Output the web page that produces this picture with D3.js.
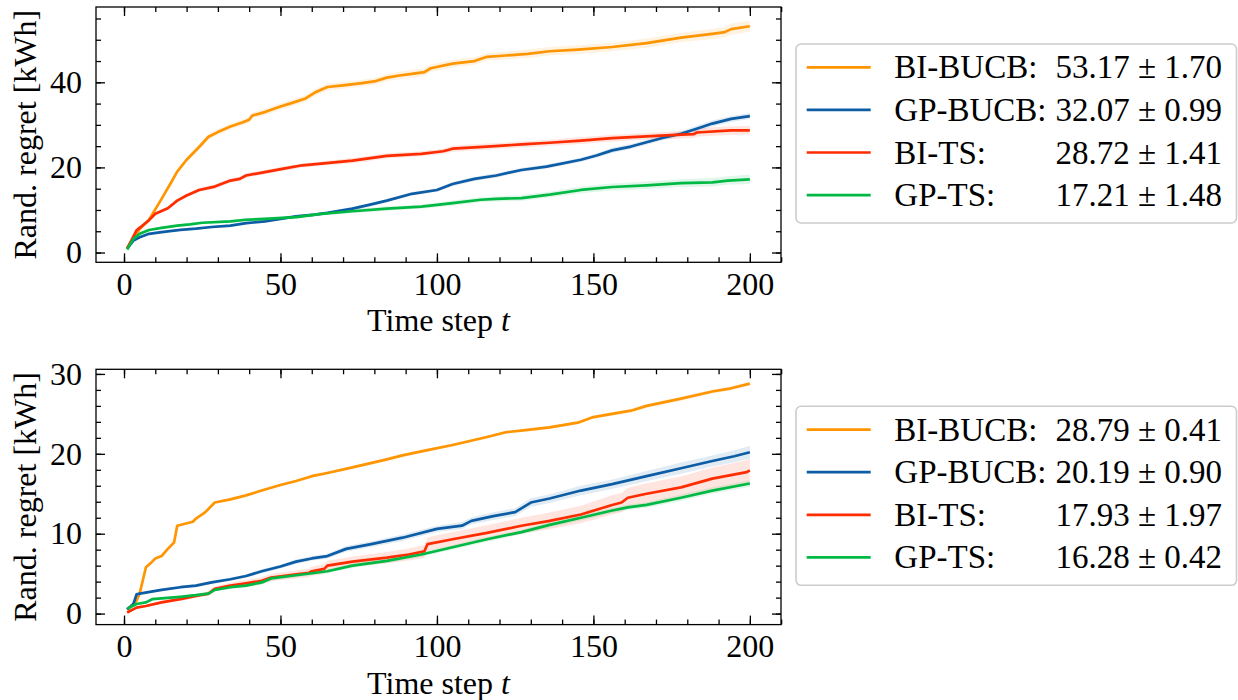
<!DOCTYPE html>
<html>
<head>
<meta charset="utf-8">
<script src="https://cdn.jsdelivr.net/npm/d3@7"></script>
<style>
  html, body { margin: 0; padding: 0; background: #fff; }
  svg { display: block; font-family: "Liberation Serif", "DejaVu Serif", serif; }
</style>
</head>
<body>
<svg id="chart" width="1238" height="700"></svg>
<script>
// ---- Series names, colours and summary values shown in the legends ----
const methods = ["BI-BUCB", "GP-BUCB", "BI-TS", "GP-TS"];
const colors = ["#FF9500", "#0C5DA5", "#FF2C00", "#00B945"];
const topFinal = ["53.17 \u00b1 1.70", "32.07 \u00b1 0.99", "28.72 \u00b1 1.41", "17.21 \u00b1 1.48"];
const bottomFinal = ["28.79 \u00b1 0.41", "20.19 \u00b1 0.90", "17.93 \u00b1 1.97", "16.28 \u00b1 0.42"];

const xTicks = [0, 50, 100, 150, 200];
const topYTicks = [0, 20, 40];
const bottomYTicks = [0, 10, 20, 30];

// ---- Upper panel: time steps, mean regret, half-width of shaded band ----
const topT_biBucb = [1,3,5,8,12,15,17,20,24,27,30,34,38,40,41,45,50,53,58,61,65,70,76,80,84,88,92,96,98,105,112,116,122,129,136,145,156,167,178,188,192,194,200];
const topV_biBucb = [1.0,3.4,5.5,7.7,12.6,16.4,19.0,21.8,24.8,27.2,28.3,29.6,30.6,31.2,32.2,33.0,34.3,35.0,36.2,37.6,38.9,39.3,39.8,40.2,41.1,41.6,42.0,42.4,43.3,44.4,45.0,46.0,46.3,46.7,47.3,47.7,48.3,49.2,50.5,51.4,51.8,52.5,53.17];
const topS_biBucb = [0.1,0.2,0.3,0.3,0.4,0.5,0.5,0.6,0.6,0.7,0.7,0.7,0.7,0.7,0.7,0.8,0.8,0.8,0.8,0.8,0.8,0.8,0.8,0.8,0.8,0.9,0.9,0.9,0.9,0.9,0.9,0.9,0.9,1.0,1.0,1.0,1.0,1.1,1.1,1.2,1.2,1.3,1.3];

const topT_gpBucb = [1,3,5,8,12,18,23,28,34,39,45,50,55,61,65,73,79,84,92,100,105,112,119,127,135,146,151,156,162,167,172,178,183,188,194,200];
const topV_gpBucb = [0.9,2.8,3.6,4.4,4.8,5.3,5.6,6.0,6.3,6.9,7.3,7.9,8.5,8.9,9.3,10.3,11.3,12.2,13.8,14.7,16.1,17.3,18.1,19.4,20.2,21.8,22.8,24.0,24.9,25.9,26.9,27.9,29.1,30.3,31.4,32.07];
const topS_gpBucb = [0.1,0.2,0.2,0.2,0.2,0.2,0.2,0.3,0.3,0.3,0.3,0.3,0.3,0.3,0.3,0.4,0.4,0.4,0.4,0.4,0.5,0.5,0.5,0.5,0.5,0.5,0.5,0.6,0.6,0.6,0.6,0.6,0.7,0.7,0.7,0.7];

const topT_biTs = [1,4,8,10,14,17,20,24,29,34,37,39,45,51,57,63,73,84,95,102,105,116,127,136,146,156,167,178,182,183,194,200];
const topV_biTs = [0.9,5.2,7.6,9.1,10.4,12.2,13.4,14.7,15.5,16.9,17.3,18.1,18.9,19.7,20.5,20.9,21.6,22.7,23.2,23.8,24.4,24.9,25.4,25.8,26.3,26.9,27.3,27.7,27.8,28.2,28.7,28.72];
const topS_biTs = [0.1,0.2,0.3,0.3,0.4,0.4,0.4,0.5,0.5,0.5,0.5,0.5,0.5,0.5,0.5,0.5,0.6,0.6,0.6,0.6,0.7,0.7,0.7,0.7,0.8,0.8,0.8,0.9,0.9,1.0,1.0,1.0];

const topT_gpTs = [1,3,5,8,12,17,21,25,34,39,45,55,63,73,84,95,105,114,119,127,136,146,156,167,178,188,193,200];
const topV_gpTs = [0.7,3.2,4.4,5.3,5.8,6.3,6.6,7.0,7.3,7.7,7.9,8.3,9.1,9.7,10.3,10.8,11.6,12.4,12.6,12.8,13.6,14.7,15.4,15.8,16.3,16.5,16.9,17.21];
const topS_gpTs = [0.1,0.2,0.2,0.3,0.3,0.3,0.3,0.3,0.3,0.4,0.4,0.4,0.4,0.5,0.5,0.5,0.6,0.6,0.6,0.7,0.7,0.8,0.8,0.9,0.9,1.0,1.0,1.1];

// ---- Lower panel ----
const botT_biBucb = [1,3,4,5,7,9,10,12,14,16,17,22,23,26,29,34,39,44,50,55,60,65,73,84,89,95,105,116,122,129,136,145,150,156,162,167,178,188,194,200];
const botV_biBucb = [0.5,1.2,1.6,2.5,5.8,6.5,6.9,7.2,8.1,8.9,11.0,11.5,11.9,12.7,13.9,14.3,14.8,15.4,16.1,16.6,17.2,17.6,18.3,19.3,19.8,20.3,21.1,22.1,22.7,23.0,23.3,23.9,24.6,25.0,25.4,26.0,26.9,27.8,28.2,28.79];
const botS_biBucb = [0.05,0.1,0.1,0.1,0.15,0.15,0.15,0.15,0.15,0.15,0.15,0.15,0.15,0.15,0.15,0.15,0.15,0.15,0.15,0.15,0.2,0.2,0.2,0.2,0.2,0.2,0.2,0.2,0.2,0.2,0.2,0.2,0.2,0.25,0.25,0.25,0.25,0.25,0.25,0.25];

const botT_gpBucb = [1,3,4,5,12,18,23,28,34,39,44,50,55,60,65,71,79,89,100,108,111,118,125,130,136,146,156,167,178,188,195,200];
const botV_gpBucb = [0.5,1.2,2.4,2.5,2.96,3.3,3.5,3.9,4.3,4.7,5.3,5.9,6.5,6.9,7.2,8.1,8.7,9.5,10.6,11.0,11.6,12.2,12.7,13.9,14.4,15.4,16.2,17.2,18.2,19.1,19.7,20.19];
const botS_gpBucb = [0.05,0.1,0.1,0.1,0.15,0.15,0.2,0.2,0.2,0.2,0.25,0.25,0.3,0.3,0.3,0.35,0.35,0.4,0.4,0.45,0.45,0.5,0.5,0.55,0.55,0.6,0.6,0.65,0.7,0.7,0.75,0.8];

const botT_biTs = [1,4,7,12,18,23,27,29,34,39,44,47,55,59,60,64,65,73,84,91,96,97,105,116,127,136,146,156,159,161,167,178,188,199,200];
const botV_biTs = [0.13,0.75,0.95,1.4,1.8,2.2,2.5,3.1,3.5,3.8,4.1,4.5,4.9,5.1,5.3,5.6,6.0,6.5,7.0,7.4,7.8,8.7,9.3,10.1,11.0,11.6,12.4,13.6,13.9,14.5,15.0,15.8,16.9,17.7,17.93];
const botS_biTs = [0.05,0.1,0.15,0.2,0.2,0.25,0.3,0.3,0.35,0.4,0.45,0.45,0.5,0.55,0.55,0.6,0.6,0.65,0.7,0.75,0.8,0.85,0.9,0.95,1.0,1.05,1.1,1.2,1.2,1.25,1.3,1.35,1.4,1.5,1.5];

const botT_gpTs = [1,4,7,9,12,18,23,27,29,34,39,44,47,55,65,73,84,95,105,116,127,136,146,156,161,167,178,188,200];
const botV_gpTs = [0.6,1.2,1.4,1.8,1.9,2.1,2.3,2.5,2.96,3.3,3.5,3.9,4.4,4.8,5.3,6.0,6.6,7.4,8.3,9.3,10.2,11.1,12.0,12.9,13.3,13.6,14.5,15.4,16.28];
const botS_gpTs = [0.05,0.1,0.1,0.15,0.15,0.15,0.2,0.2,0.2,0.2,0.2,0.25,0.25,0.25,0.25,0.3,0.3,0.3,0.3,0.3,0.3,0.35,0.35,0.35,0.35,0.35,0.4,0.4,0.4];

function rows(T, V, S) {
  return T.map((t, i) => ({ t, v: V[i], s: S[i] == null ? 0 : S[i] }));
}

const panels = [
  {
    top: 7, yDomain: [-2.3, 57.7], yTicks: topYTicks, yMinor: d3.range(0, 56, 5), legend: topFinal,
    series: [rows(topT_biBucb, topV_biBucb, topS_biBucb), rows(topT_gpBucb, topV_gpBucb, topS_gpBucb),
             rows(topT_biTs, topV_biTs, topS_biTs), rows(topT_gpTs, topV_gpTs, topS_gpTs)]
  },
  {
    top: 369.3, yDomain: [-1.38, 30.58], yTicks: bottomYTicks, yMinor: d3.range(0, 31, 2), legend: bottomFinal,
    series: [rows(botT_biBucb, botV_biBucb, botS_biBucb), rows(botT_gpBucb, botV_gpBucb, botS_gpBucb),
             rows(botT_biTs, botV_biTs, botS_biTs), rows(botT_gpTs, botV_gpTs, botS_gpTs)]
  }
];

// ---- Layout ----
const axLeft = 96, axRight = 781, axH = 255.3;
const fontSize = 32;
const legendFont = 33;
const svg = d3.select("#chart");

const x = d3.scaleLinear().domain([-8.95, 209.95]).range([axLeft, axRight]);
const xMinor = d3.range(0, 211, 10);

panels.forEach((p, pi) => {
  const y = d3.scaleLinear().domain(p.yDomain).range([p.top + axH, p.top]);
  const g = svg.append("g");
  const clipId = "clip" + pi;
  g.append("clipPath").attr("id", clipId)
    .append("rect").attr("x", axLeft).attr("y", p.top).attr("width", axRight - axLeft).attr("height", axH);

  const plot = g.append("g").attr("clip-path", `url(#${clipId})`);

  // shaded bands (mean ± spread)
  p.series.forEach((data, i) => {
    plot.append("path")
      .datum(data)
      .attr("fill", colors[i])
      .attr("fill-opacity", 0.12)
      .attr("d", d3.area().x(d => x(d.t)).y0(d => y(d.v - d.s)).y1(d => y(d.v + d.s)));
  });
  // mean curves
  p.series.forEach((data, i) => {
    plot.append("path")
      .datum(data)
      .attr("fill", "none")
      .attr("stroke", colors[i])
      .attr("stroke-width", 2.7)
      .attr("stroke-linejoin", "round")
      .attr("d", d3.line().x(d => x(d.t)).y(d => y(d.v)));
  });

  const bottomY = p.top + axH;
  const styleAxis = sel => {
    sel.select(".domain").remove();
    sel.selectAll("line").attr("stroke", "#000").attr("stroke-width", 1.3);
    sel.selectAll("text").attr("font-family", "'Liberation Serif', serif")
      .attr("font-size", fontSize).attr("fill", "#000");
  };

  // bottom axis: major with labels, minor without
  g.append("g").attr("transform", `translate(0,${bottomY})`)
    .call(d3.axisBottom(x).tickValues(xMinor).tickSize(-5).tickFormat(""))
    .call(styleAxis);
  g.append("g").attr("transform", `translate(0,${bottomY})`)
    .call(d3.axisBottom(x).tickValues(xTicks).tickSize(-9).tickPadding(10).tickFormat(d3.format("d")))
    .call(styleAxis);
  // top axis ticks
  g.append("g").attr("transform", `translate(0,${p.top})`)
    .call(d3.axisTop(x).tickValues(xMinor).tickSize(-5).tickFormat(""))
    .call(styleAxis);
  g.append("g").attr("transform", `translate(0,${p.top})`)
    .call(d3.axisTop(x).tickValues(xTicks).tickSize(-9).tickFormat(""))
    .call(styleAxis);
  // left axis
  g.append("g").attr("transform", `translate(${axLeft},0)`)
    .call(d3.axisLeft(y).tickValues(p.yMinor).tickSize(-5).tickFormat(""))
    .call(styleAxis);
  g.append("g").attr("transform", `translate(${axLeft},0)`)
    .call(d3.axisLeft(y).tickValues(p.yTicks).tickSize(-9).tickPadding(14).tickFormat(d3.format("d")))
    .call(styleAxis);
  // right axis ticks
  g.append("g").attr("transform", `translate(${axRight},0)`)
    .call(d3.axisRight(y).tickValues(p.yMinor).tickSize(-5).tickFormat(""))
    .call(styleAxis);
  g.append("g").attr("transform", `translate(${axRight},0)`)
    .call(d3.axisRight(y).tickValues(p.yTicks).tickSize(-9).tickFormat(""))
    .call(styleAxis);

  // frame
  g.append("rect")
    .attr("x", axLeft).attr("y", p.top).attr("width", axRight - axLeft).attr("height", axH)
    .attr("fill", "none").attr("stroke", "#000").attr("stroke-width", 1.3);

  // axis titles
  const xl = g.append("text")
    .attr("x", (axLeft + axRight) / 2).attr("y", bottomY + 69)
    .attr("text-anchor", "middle").attr("font-size", fontSize);
  xl.append("tspan").text("Time step ");
  xl.append("tspan").attr("font-style", "italic").text("t");

  g.append("text")
    .attr("transform", `translate(36,${p.top + axH / 2}) rotate(-90)`)
    .attr("text-anchor", "middle").attr("font-size", fontSize)
    .text("Rand. regret [kWh]");

  // legend
  const lg = g.append("g");
  lg.append("rect")
    .attr("x", 796).attr("y", p.top + 37).attr("width", 440.5).attr("height", 179)
    .attr("rx", 5).attr("fill", "#fff").attr("fill-opacity", 0.8)
    .attr("stroke", "#cccccc").attr("stroke-width", 1.6);
  methods.forEach((m, i) => {
    const ry = p.top + 60.3 + i * 42.6;
    lg.append("line").attr("x1", 806.7).attr("x2", 870.7).attr("y1", ry).attr("y2", ry)
      .attr("stroke", colors[i]).attr("stroke-width", 2.7);
    lg.append("text").attr("x", 894.3).attr("y", ry + 11).attr("font-size", legendFont).text(m + ":");
    lg.append("text").attr("x", 1222).attr("y", ry + 11).attr("text-anchor", "end")
      .attr("font-size", legendFont).text(p.legend[i]);
  });
});
</script>
</body>
</html>
